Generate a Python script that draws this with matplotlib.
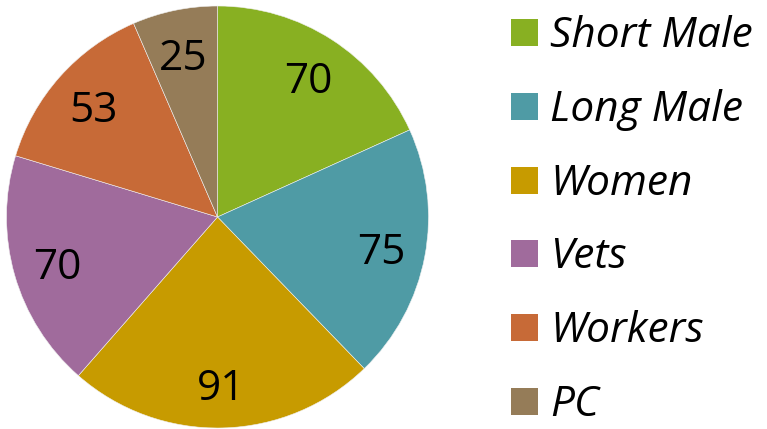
import matplotlib
matplotlib.use("Agg")
import matplotlib.pyplot as plt
from matplotlib.patches import Rectangle
from matplotlib.transforms import ScaledTranslation

categories = ["Short Male", "Long Male", "Women", "Vets", "Workers", "PC"]
values = [70, 75, 91, 70, 53, 25]
colors = ["#88B022", "#4F9BA5", "#C79B00", "#A06B9C", "#C76A37", "#957C58"]

W, H = 767, 429
fig = plt.figure(figsize=(W/100, H/100), dpi=100)
ax = fig.add_axes([6/W, 1 - 428/H, 423/W, 422/H])
wedges, texts = ax.pie(values, colors=colors, startangle=90, counterclock=False,
                       labels=[str(v) for v in values], labeldistance=0.79,
                       wedgeprops=dict(edgecolor="#f0f0f0", linewidth=0.4))
shift = ScaledTranslation(0, -5/100, fig.dpi_scale_trans)
for t in texts:
    t.set_ha("center"); t.set_va("center")
    t.set_fontsize(30.5); t.set_family("Open Sans"); t.set_color("black")
    t.set_transform(t.get_transform() + shift)
ax.set_xlim(-1.0, 1.0)
ax.set_ylim(-1.0, 1.0)
ax.set_aspect("equal")

# legend drawn in figure pixel coordinates
row0, step = 32.5, 73.8
for i, (cat, col) in enumerate(zip(categories, colors)):
    yc = row0 + i * step
    fig.patches.append(Rectangle((511/W, 1 - (yc + 13.5)/H), 27/W, 27/H,
                                 transform=fig.transFigure, facecolor=col,
                                 edgecolor="none"))
    fig.text(550/W, 1 - (yc + 14.5)/H, cat, family="Open Sans", style="italic",
             fontsize=30.5, va="baseline", ha="left", color="black")
fig.savefig("out.png", dpi=100)
